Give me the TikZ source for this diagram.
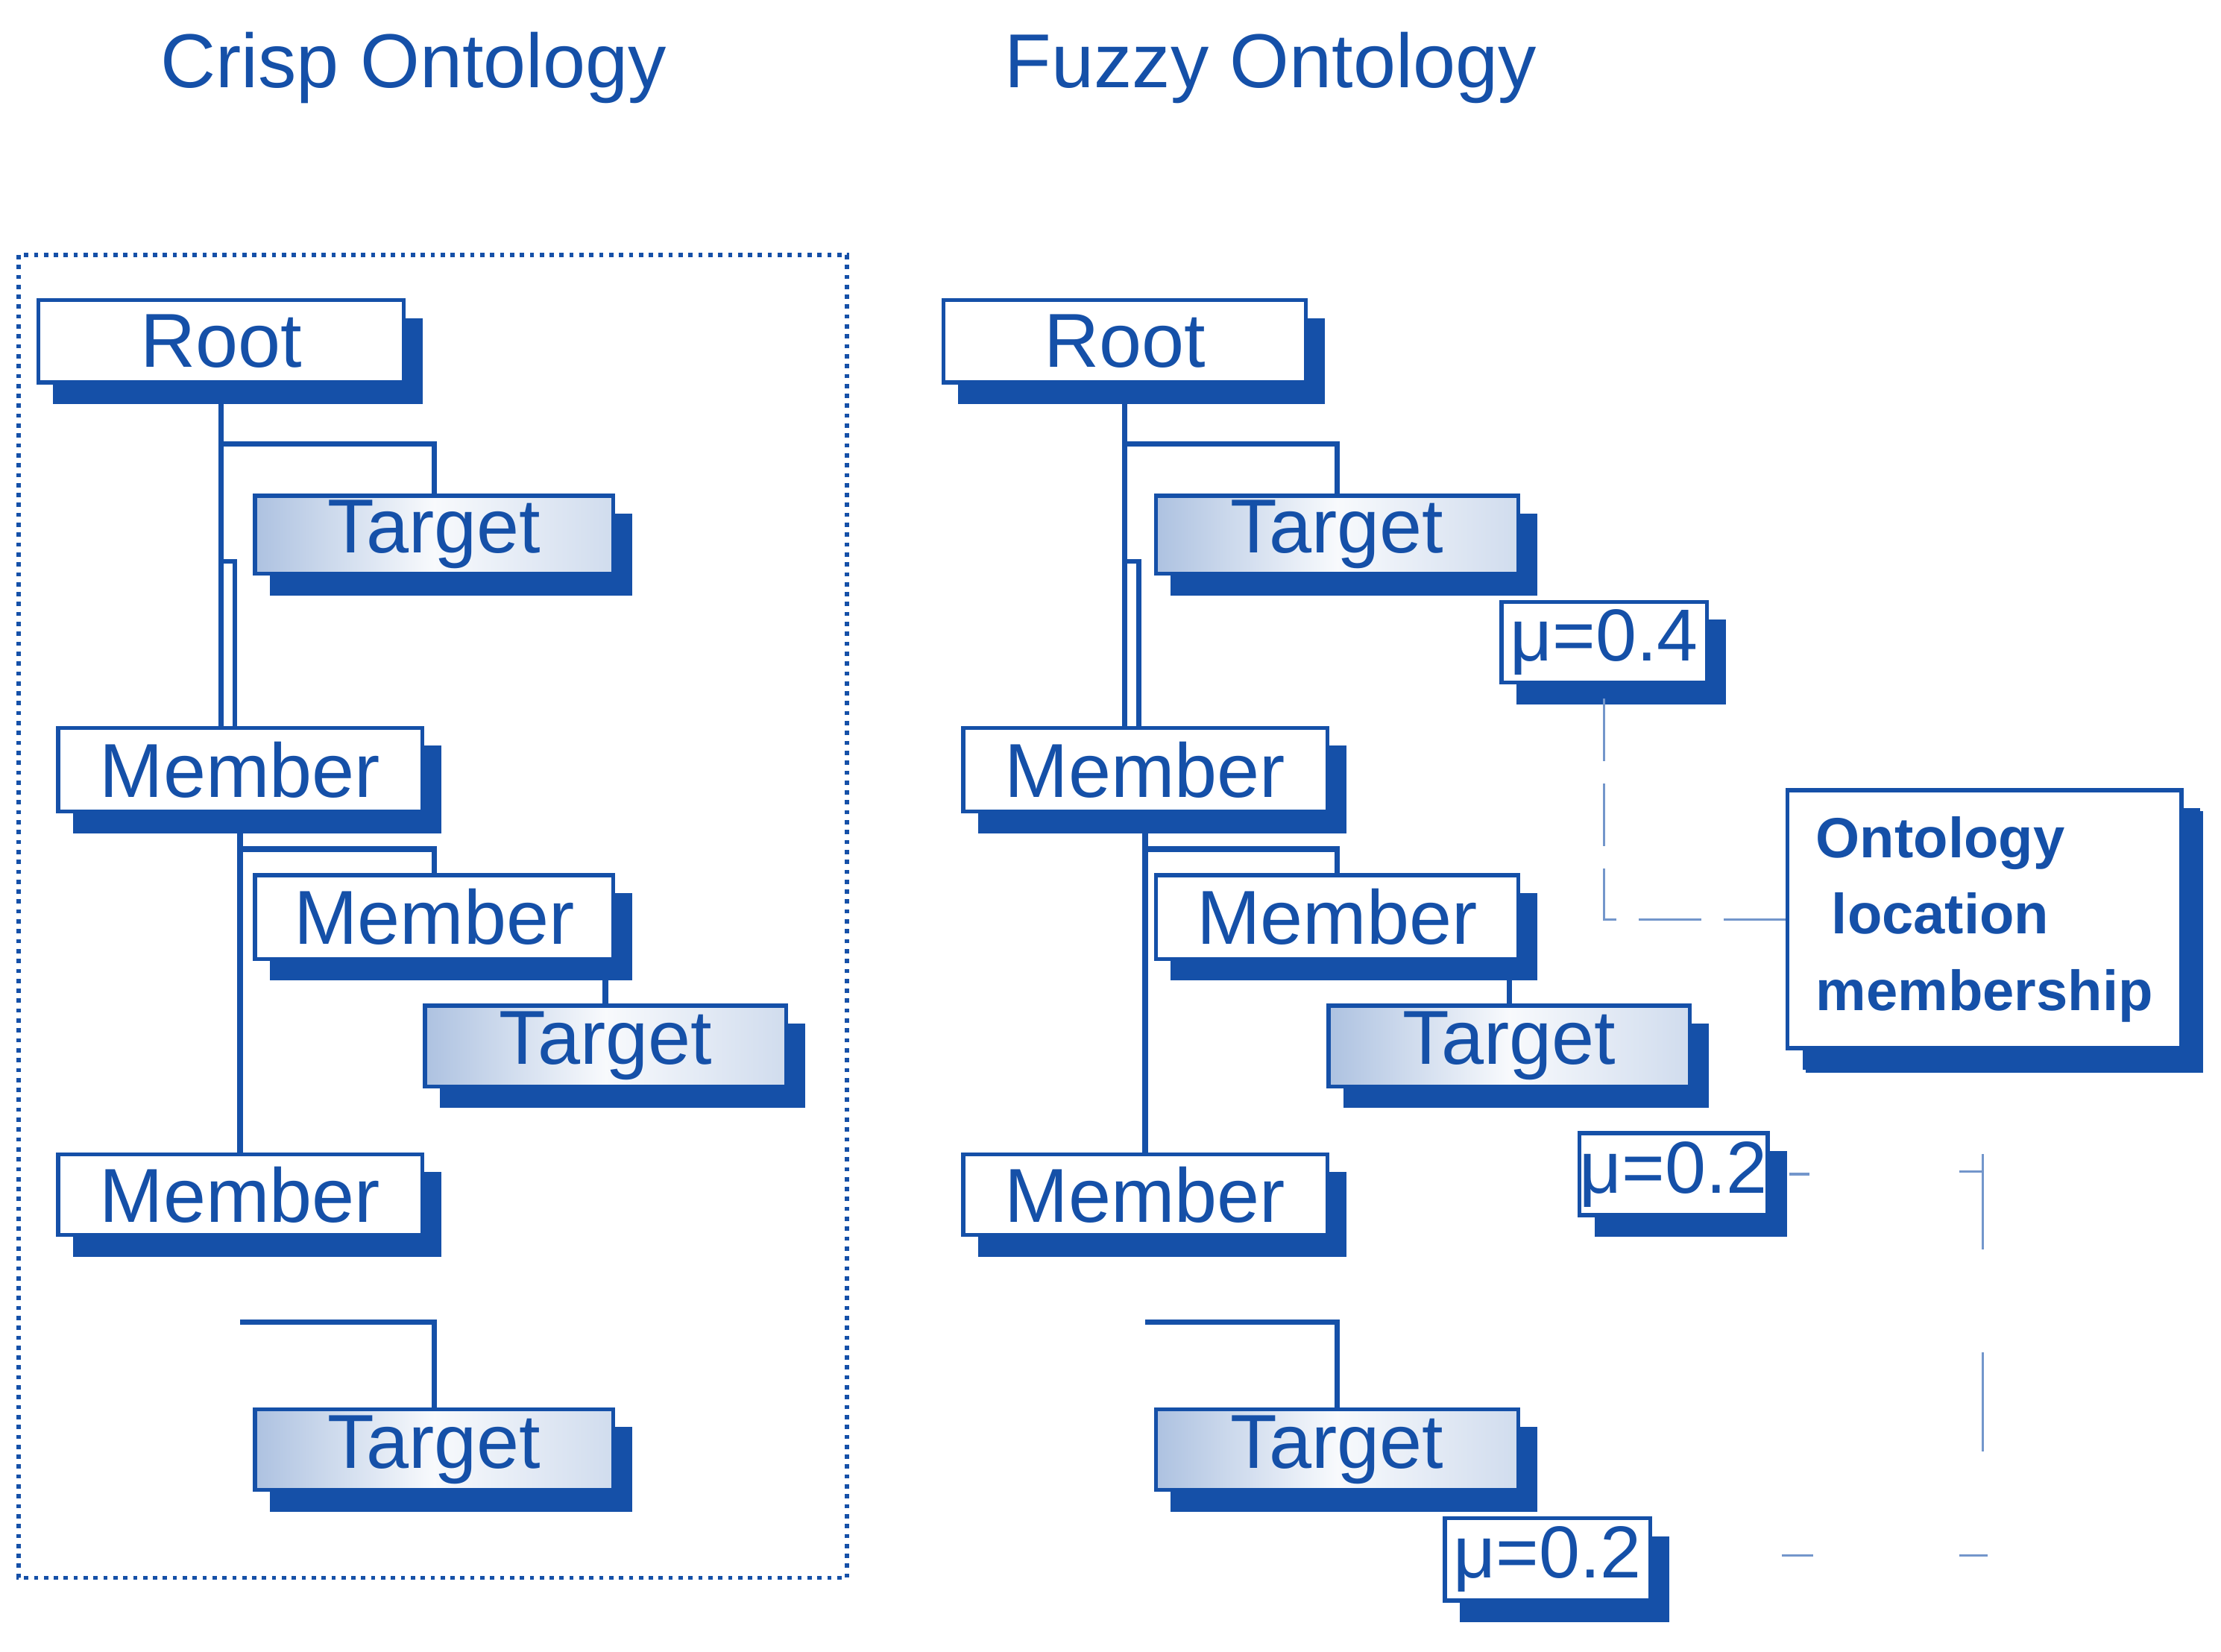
\documentclass[tikz,border=0pt]{standalone}
\usepackage{fontspec}
\setmainfont{Liberation Sans}
\usetikzlibrary{shadows,calc}
\definecolor{c}{HTML}{1550A8}
\tikzset{
 box/.style={draw=c,line width=1.4pt,text=c,inner sep=0pt,font=\fontsize{27}{30}\selectfont,
   copy shadow={shadow xshift=6pt,shadow yshift=-7pt,fill=c,draw=c}},
 wbox/.style={box,fill=white},
 tbox/.style={box,left color=c!35,right color=c!20,middle color=white!70!c!10},
 mbox/.style={box,fill=white,font=\fontsize{26}{28}\selectfont},
 tree/.style={draw=c,line width=2pt},
 dline/.style={draw=c!60,line width=0.8pt},
 title/.style={text=c,font=\fontsize{27}{30}\selectfont}
}
\newcommand\bx[7]{\node[#6,minimum width={(#4-#2)*0.5pt},minimum height={(#5-#3)*0.5pt}] (#1) at ({(#2+#4)/2},{(#3+#5)/2}) {#7};}
\begin{document}
\begin{tikzpicture}[x=0.5pt,y=-0.5pt]
\useasboundingbox (0,0) rectangle (1568,1166);
\node[title] (t1) at (292,48) {Crisp Ontology};
\node[title] (t2) at (897,48) {Fuzzy Ontology};
\draw[c,line width=1.5pt,dash pattern=on 1.5pt off 2pt] (13,180) rectangle (598,1114);
% crisp
\bx{cR}{27}{212}{285}{270}{wbox}{Root}
\bx{cT1}{180}{350}{433}{405}{tbox}{Target}
\bx{cM1}{41}{514}{298}{573}{wbox}{Member}
\bx{cM2}{180}{618}{433}{677}{wbox}{Member}
\bx{cT2}{300}{710}{555}{767}{tbox}{Target}
\bx{cM3}{41}{815}{298}{872}{wbox}{Member}
\bx{cT3}{180}{995}{433}{1052}{tbox}{Target}
% fuzzy
\bx{fR}{666}{212}{922}{270}{wbox}{Root}
\bx{fT1}{816}{350}{1072}{405}{tbox}{Target}
\bx{fM1}{680}{514}{937}{573}{wbox}{Member}
\bx{fM2}{816}{618}{1072}{677}{wbox}{Member}
\bx{fT2}{938}{710}{1193}{767}{tbox}{Target}
\bx{fM3}{680}{815}{937}{872}{wbox}{Member}
\bx{fT3}{816}{995}{1072}{1052}{tbox}{Target}
\bx{mu1}{1060}{425}{1205}{482}{mbox}{μ=0.4}
\bx{mu2}{1115}{800}{1248}{858}{mbox}{μ=0.2}
\bx{mu3}{1020}{1072}{1165}{1130}{mbox}{μ=0.2}
\node[wbox,minimum width=139pt,minimum height=91pt,font=\bfseries\fontsize{20}{27}\selectfont,align=left,
  copy shadow={shadow xshift=7pt,shadow yshift=-8pt,fill=c,draw=c}] (ont) at (1401,649)
  {Ontology\\\ location\\membership};
% crisp connectors
\foreach \p in {c,f}{
 \draw[tree] (\p R.south) -- (\p R.south |- \p M1.north);
 \draw[tree] (\p R.south) ++(0,42) -| (\p T1.north);
 \draw[tree,line width=1.6pt] (\p R.south) ++(0,125) -- ++(10,0) -- ++(0,119);
 \draw[tree] (\p M1.south) -- (\p M1.south |- \p M3.north);
 \draw[tree] (\p M1.south) ++(0,25) -| (\p M2.north);
 \draw[tree] (\p T2.north |- \p M2.south) -- (\p T2.north);
 \draw[tree] (\p M3.south) ++(0,60) -| (\p T3.north);
}
% dashed
\draw[dline,dash pattern=on 22pt off 8pt] (mu1.south) ++(0,10) -- (mu1.south |- ont.west) -- (ont.west);
\draw[dline] (mu2.east) ++(14,0) -- ++(14,0);
\draw[dline] (1383,827)--(1400,827) (1400,815)--(1400,882) (1400,955)--(1400,1025)
 (1258,1098)--(1280,1098) (1383,1098)--(1403,1098);
\end{tikzpicture}
\end{document}
